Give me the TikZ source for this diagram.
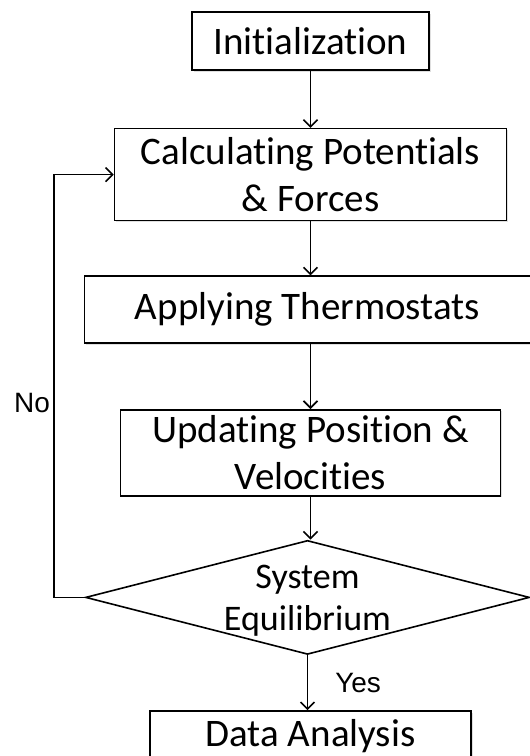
\documentclass[tikz,border=0pt]{standalone}
\usepackage{fontspec}
\setmainfont{Carlito}[Ligatures=NoCommon]
\newfontfamily\lblfont{Liberation Sans}
\usepackage{tikz}
\usetikzlibrary{arrows.meta, positioning, shapes.geometric, shadows}

\begin{document}
\begin{tikzpicture}[
    x=1pt, y=1pt,
    %% component styles
    stepbox/.style={
        draw, line width=1.6pt, fill=white,
        align=center, inner sep=2pt,
        font=\fontsize{39}{47}\selectfont,
        drop shadow={shadow xshift=1.5pt, shadow yshift=-1.5pt, opacity=0.25}
    },
    decision/.style={
        draw, diamond, line width=1.6pt, fill=white,
        inner sep=0pt, text width=0pt
    },
    %% arrow styles
    flow/.style={-{Straight Barb[length=7pt, width=14pt, line width=1.6pt]}, line width=1.6pt},
    %% label styles
    lbl/.style={font=\lblfont\fontsize{28}{30}\selectfont, inner sep=3pt}
]
    \useasboundingbox (0,0) rectangle (530,-756);

    %% --- nodes ------------------------------------------------
    \node[stepbox, minimum width=237pt, minimum height=58pt] (init) at (310.5,-41) {Initialization};

    \node[stepbox, minimum width=392pt, minimum height=92pt] (calc) [below=57pt of init] {%
        Calculating Potentials\\
        \& Forces
    };

    \node[stepbox, minimum width=446pt, minimum height=67pt] (therm) [below=54pt of calc, xshift=-3pt] {Applying Thermostats};

    \node[stepbox, minimum width=380pt, minimum height=86pt] (upd) [below=65pt of therm, xshift=3pt] {%
        Updating Position \&\\
        Velocities
    };

    \node[decision, minimum width=444pt, minimum height=114pt,
          label={[font=\fontsize{36}{42}\selectfont, align=center, yshift=-3pt]center:{System\\Equilibrium}}]
          (eq) [below=43pt of upd, xshift=-3pt] {};

    \node[stepbox, minimum width=321pt, minimum height=50pt] (data) [below=55pt of eq, xshift=3pt] {Data Analysis};

    %% --- arrows -----------------------------------------------
    \draw[flow] (init.south) -- (init.south |- calc.north);
    \draw[flow] (calc.south) -- (calc.south |- therm.north);
    \draw[flow] (therm.south -| upd.north) -- (upd.north);
    \draw[flow] (upd.south) -- (upd.south |- eq.north);
    \draw[flow] (eq.south) -- node[lbl, right=24pt, pos=0.5] {Yes} (eq.south |- data.north);

    %% --- loop back: not in equilibrium ------------------------
    \draw[flow] (eq.west) -- ++(-31,0) |- node[lbl, left=0pt, pos=0.23] {No} (calc.west);

\end{tikzpicture}
\end{document}
